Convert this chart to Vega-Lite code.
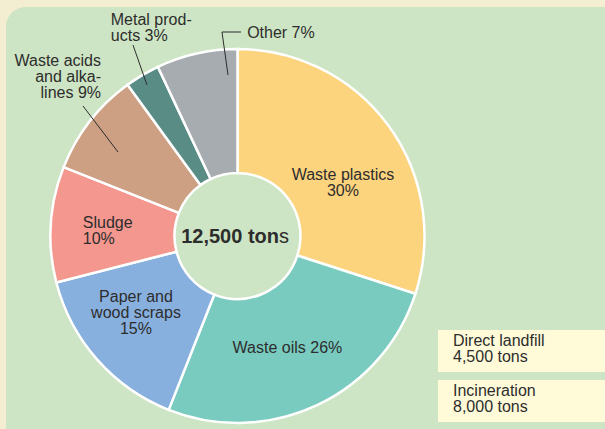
{
  "$schema": "https://vega.github.io/schema/vega-lite/v6.json",
  "width": 475,
  "height": 386,
  "autosize": {"type": "none"},
  "padding": {"left": 0, "top": 43, "right": 130, "bottom": 0},
  "background": "#f3edd1",
  "config": {"view": {"stroke": null}, "text": {"font": "Liberation Sans", "color": "#2d2d2d", "fontSize": 16, "lineHeight": 16}},
  "datasets": {
    "pie": [
      {"category": "Waste plastics", "pct": 30, "order": 1, "label": "Waste plastics\n30%"},
      {"category": "Waste oils", "pct": 26, "order": 2, "label": "Waste oils 26%"},
      {"category": "Paper and wood scraps", "pct": 15, "order": 3, "label": "Paper and\nwood scraps\n15%"},
      {"category": "Sludge", "pct": 10, "order": 4, "label": "Sludge\n10%"},
      {"category": "Waste acids and alkalines", "pct": 9, "order": 5, "label": "Waste acids\nand alka-\nlines 9%"},
      {"category": "Metal products", "pct": 3, "order": 6, "label": "Metal prod-\nucts 3%"},
      {"category": "Other", "pct": 7, "order": 7, "label": "Other 7%"}
    ],
    "boxes": [
      {"method": "Direct landfill", "label": "Direct landfill\n4,500 tons"},
      {"method": "Incineration", "label": "Incineration\n8,000 tons"}
    ],
    "one": [{}]
  },
  "data": {"name": "pie"},
  "layer": [
    {
      "data": {"name": "one"},
      "mark": {"type": "rect", "color": "#cde5c4", "cornerRadiusTopLeft": 20, "x": 6, "y": -36, "x2": 700, "y2": 500},
      "encoding": {}
    },
    {
      "mark": {"type": "arc", "outerRadius": 187, "innerRadius": 63, "stroke": "white", "strokeWidth": 2.5},
      "encoding": {
        "theta": {"field": "pct", "type": "quantitative", "stack": true},
        "order": {"field": "order"},
        "color": {
          "field": "category", "type": "nominal", "legend": null,
          "scale": {
            "domain": ["Waste plastics", "Waste oils", "Paper and wood scraps", "Sludge", "Waste acids and alkalines", "Metal products", "Other"],
            "range": ["#fdd47e", "#79cbbf", "#88b0df", "#f4978e", "#cd9f83", "#5a8c86", "#a7acb0"]
          }
        }
      }
    },
    {
      "mark": {"type": "text", "radius": 118, "dx": 10, "dy": 8, "align": "center", "baseline": "middle", "lineBreak": "\n"},
      "encoding": {
        "theta": {"field": "pct", "type": "quantitative", "stack": true},
        "order": {"field": "order"},
        "detail": {"field": "category"},
        "text": {"condition": {"test": "datum.category === 'Waste plastics'", "field": "label"}, "value": ""}
      }
    },
    {
      "mark": {"type": "text", "radius": 122, "dx": -2, "dy": 2, "align": "center", "baseline": "middle", "lineBreak": "\n"},
      "encoding": {
        "theta": {"field": "pct", "type": "quantitative", "stack": true},
        "order": {"field": "order"},
        "detail": {"field": "category"},
        "text": {"condition": {"test": "datum.category === 'Waste oils'", "field": "label"}, "value": ""}
      }
    },
    {
      "mark": {"type": "text", "radius": 128, "dx": -5.5, "dy": -23.5, "align": "center", "baseline": "middle", "lineBreak": "\n"},
      "encoding": {
        "theta": {"field": "pct", "type": "quantitative", "stack": true},
        "order": {"field": "order"},
        "detail": {"field": "category"},
        "text": {"condition": {"test": "datum.category === 'Paper and wood scraps'", "field": "label"}, "value": ""}
      }
    },
    {
      "mark": {"type": "text", "radius": 155, "dx": 0, "dy": -3.5, "align": "left", "baseline": "middle", "lineBreak": "\n"},
      "encoding": {
        "theta": {"field": "pct", "type": "quantitative", "stack": true},
        "order": {"field": "order"},
        "detail": {"field": "category"},
        "text": {"condition": {"test": "datum.category === 'Sludge'", "field": "label"}, "value": ""}
      }
    },
    {
      "mark": {"type": "text", "radius": 205, "dx": 25.5, "dy": -49, "align": "right", "baseline": "middle", "lineBreak": "\n"},
      "encoding": {
        "theta": {"field": "pct", "type": "quantitative", "stack": true},
        "order": {"field": "order"},
        "detail": {"field": "category"},
        "text": {"condition": {"test": "datum.category === 'Waste acids and alkalines'", "field": "label"}, "value": ""}
      }
    },
    {
      "mark": {"type": "text", "radius": 245, "dx": -2, "dy": -5.5, "align": "left", "baseline": "middle", "lineBreak": "\n"},
      "encoding": {
        "theta": {"field": "pct", "type": "quantitative", "stack": true},
        "order": {"field": "order"},
        "detail": {"field": "category"},
        "text": {"condition": {"test": "datum.category === 'Metal products'", "field": "label"}, "value": ""}
      }
    },
    {
      "mark": {"type": "text", "radius": 208, "dx": 55, "dy": 0, "align": "left", "baseline": "middle", "lineBreak": "\n"},
      "encoding": {
        "theta": {"field": "pct", "type": "quantitative", "stack": true},
        "order": {"field": "order"},
        "detail": {"field": "category"},
        "text": {"condition": {"test": "datum.category === 'Other'", "field": "label"}, "value": ""}
      }
    },
    {
      "data": {"name": "one"},
      "mark": {"type": "rule", "color": "#2d2d2d", "strokeWidth": 1},
      "encoding": {"x": {"value": 83}, "y": {"value": 63}, "x2": {"value": 118}, "y2": {"value": 109}}
    },
    {
      "data": {"name": "one"},
      "mark": {"type": "rule", "color": "#2d2d2d", "strokeWidth": 1},
      "encoding": {"x": {"value": 133}, "y": {"value": 2}, "x2": {"value": 147}, "y2": {"value": 42}}
    },
    {
      "data": {"name": "one"},
      "mark": {"type": "rule", "color": "#2d2d2d", "strokeWidth": 1},
      "encoding": {"x": {"value": 222}, "y": {"value": -11}, "x2": {"value": 228}, "y2": {"value": 32}}
    },
    {
      "data": {"name": "one"},
      "mark": {"type": "rule", "color": "#2d2d2d", "strokeWidth": 1},
      "encoding": {"x": {"value": 222}, "y": {"value": -11}, "x2": {"value": 241}, "y2": {"value": -11}}
    },
    {
      "data": {"name": "one"},
      "mark": {"type": "text", "text": "12,500 ton", "fontWeight": "bold", "fontSize": 20, "align": "right", "baseline": "middle", "dx": 41.5, "dy": 1},
      "encoding": {}
    },
    {
      "data": {"name": "one"},
      "mark": {"type": "text", "text": "s", "fontWeight": "normal", "fontSize": 20, "align": "left", "baseline": "middle", "dx": 41.5, "dy": 1},
      "encoding": {}
    },
    {
      "data": {"name": "boxes"},
      "mark": {"type": "rect", "color": "#fffbd9"},
      "encoding": {
        "y": {"field": "method", "type": "nominal", "axis": null, "sort": null, "scale": {"range": [287, 379], "paddingInner": 0.16, "paddingOuter": 0}},
        "x": {"value": 438},
        "x2": {"value": 640}
      }
    },
    {
      "data": {"name": "boxes"},
      "mark": {"type": "text", "align": "left", "baseline": "middle", "lineBreak": "\n", "fontSize": 16, "lineHeight": 15.5, "dy": -10},
      "encoding": {
        "y": {"field": "method", "type": "nominal", "axis": null, "sort": null},
        "x": {"value": 453},
        "text": {"field": "label"}
      }
    }
  ]
}
